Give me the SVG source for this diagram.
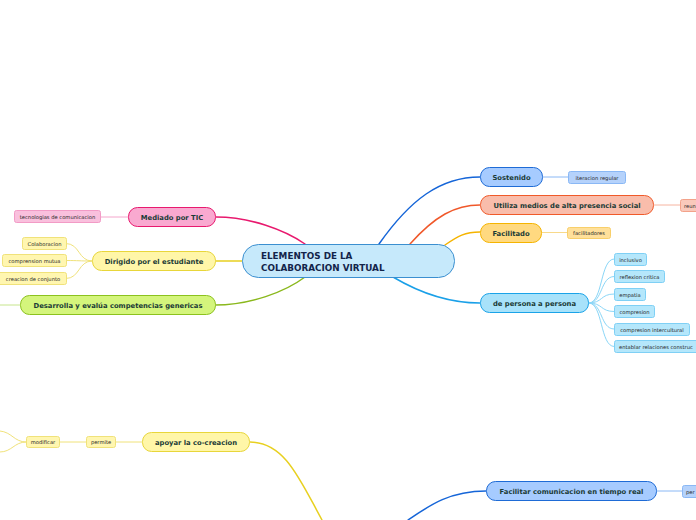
<svg xmlns="http://www.w3.org/2000/svg" width="696" height="520" viewBox="0 0 696 520">
<style>
.t{font-family:"DejaVu Sans",Verdana,sans-serif;font-weight:bold;font-size:6.8px;fill:#1b3b36;text-anchor:middle}
.s{font-family:"DejaVu Sans",Verdana,sans-serif;font-size:5.2px;fill:#262626;text-anchor:middle}
.c{font-family:"DejaVu Sans",Verdana,sans-serif;font-weight:bold;font-size:8.8px;fill:#13244a}
path,line{fill:none}
.pink{fill:#f9a9d0;stroke:#e8196e}
.pinkc{fill:#f9c0dd;stroke:#f29bc6}
.yel{fill:#fff6a8;stroke:#e8d63a}
.yelc{fill:#fff6b0;stroke:#f0e27a}
.grn{fill:#d4f57c;stroke:#8cc21e}
.blu{fill:#a6cbff;stroke:#1e6bd6}
.bluc{fill:#b5d2fb;stroke:#8ab8f5}
.org{fill:#f9bdab;stroke:#f05a2a}
.orgc{fill:#f9c9bb;stroke:#f3a28a}
.gold{fill:#ffd980;stroke:#f5b400}
.goldc{fill:#ffe09a;stroke:#f8cf6a}
.cyan{fill:#a8e2fa;stroke:#1aa3e8}
.cyanc{fill:#b5e7fb;stroke:#7fd0f5}
</style>
<rect width="696" height="520" fill="#fff"/>
<g id="connectors" stroke-linecap="round">
<path d="M305,244 C285,230 250,217 216,217" stroke="#e8196e" stroke-width="1.5"/>
<line x1="101" y1="217" x2="128" y2="217" stroke="#f4a6cc" stroke-width="1"/>
<line x1="215" y1="261" x2="242" y2="261" stroke="#e8d020" stroke-width="1.5"/>
<path d="M92,261 C78,261 80,243.5 66,243.5" stroke="#f0e27a" stroke-width="1"/>
<path d="M92,261 C78,261 80,260.5 66,260.5" stroke="#f0e27a" stroke-width="1"/>
<path d="M92,261 C78,261 80,278.5 66,278.5" stroke="#f0e27a" stroke-width="1"/>
<path d="M305,277 C285,292 250,305 215,305" stroke="#8ab81c" stroke-width="1.5"/>
<line x1="0" y1="305" x2="20" y2="305" stroke="#c6e58c" stroke-width="1"/>
<path d="M379,244 C410,200 440,177 480,177" stroke="#1565d8" stroke-width="1.5"/>
<line x1="543" y1="177" x2="568" y2="177" stroke="#8ab8f5" stroke-width="1"/>
<path d="M410,244 C435,216 455,205 480,205" stroke="#f0582a" stroke-width="1.5"/>
<line x1="654" y1="205" x2="680" y2="205" stroke="#f6b4a0" stroke-width="1"/>
<path d="M445,245 C458,236 465,232 480,232" stroke="#f5b400" stroke-width="1.5"/>
<line x1="542" y1="232.5" x2="567" y2="232.5" stroke="#f8d98a" stroke-width="1"/>
<path d="M393,277 C420,293 450,303 480,303" stroke="#1aa0e8" stroke-width="1.5"/>
<path d="M589,303 C603,303 600,259 614,259" stroke="#8ad6f7" stroke-width="1"/>
<path d="M589,303 C603,303 600,276.5 614,276.5" stroke="#8ad6f7" stroke-width="1"/>
<path d="M589,303 C603,303 600,294 614,294" stroke="#8ad6f7" stroke-width="1"/>
<path d="M589,303 C603,303 600,311.5 614,311.5" stroke="#8ad6f7" stroke-width="1"/>
<path d="M589,303 C603,303 600,329 614,329" stroke="#8ad6f7" stroke-width="1"/>
<path d="M589,303 C603,303 600,346.5 614,346.5" stroke="#8ad6f7" stroke-width="1"/>
<path d="M250,442 C285,442 300,480 322,520" stroke="#e8d020" stroke-width="1.5"/>
<line x1="116" y1="442" x2="142" y2="442" stroke="#f0e27a" stroke-width="1"/>
<line x1="60" y1="442" x2="86" y2="442" stroke="#f0e27a" stroke-width="1"/>
<path d="M26,442 C14,442 12,432 0,431" stroke="#f0e27a" stroke-width="1"/>
<path d="M26,442 C14,442 12,452 0,452" stroke="#f0e27a" stroke-width="1"/>
<path d="M408,520 C430,505 450,491 486,491" stroke="#1565d8" stroke-width="1.5"/>
<line x1="657" y1="491" x2="682" y2="491" stroke="#8ab8f5" stroke-width="1"/>
</g>
<g id="central">
<rect x="242.5" y="244.5" width="212" height="33" rx="16" fill="#c6e9fb" stroke="#3b8fd0" stroke-width="1"/>
<text class="c" x="261" y="259">ELEMENTOS DE LA</text>
<text class="c" x="261" y="270.5">COLABORACION VIRTUAL</text>
</g>
<g id="mediado">
<rect class="pink" x="128.5" y="207.5" width="87" height="19" rx="9"/>
<text class="t" x="172" y="219.5">Mediado por TIC</text>
</g>
<g id="tecnologias">
<rect class="pinkc" x="14.5" y="210.5" width="86" height="12" rx="2"/>
<text class="s" x="57.5" y="218.5">tecnologias de comunicacion</text>
</g>
<g id="dirigido">
<rect class="yel" x="92.5" y="251.5" width="123" height="19" rx="9"/>
<text class="t" x="154" y="263.5">Dirigido por el estudiante</text>
</g>
<g id="colaboracion">
<rect class="yelc" x="22.5" y="237.5" width="44" height="12" rx="2"/>
<text class="s" x="44.5" y="245.5">Colaboracion</text>
</g>
<g id="comprension-mutua">
<rect class="yelc" x="2.5" y="254.5" width="64" height="12" rx="2"/>
<text class="s" x="34.5" y="262.5">comprension mutua</text>
</g>
<g id="creacion">
<rect class="yelc" x="-2" y="272.5" width="68.5" height="12" rx="2"/>
<text class="s" x="33" y="280.5">creacion de conjunto</text>
</g>
<g id="desarrolla">
<rect class="grn" x="20.5" y="295.5" width="195" height="19" rx="9"/>
<text class="t" x="118" y="307.5">Desarrolla y evalúa competencias genericas</text>
</g>
<g id="sostenido">
<rect class="blu" x="480.5" y="167.5" width="62" height="19" rx="9"/>
<text class="t" x="511.5" y="179.5">Sostenido</text>
</g>
<g id="iteracion">
<rect class="bluc" x="568.5" y="171.5" width="57" height="12" rx="2"/>
<text class="s" x="597" y="179.5">iteracion regular</text>
</g>
<g id="utiliza">
<rect class="org" x="480.5" y="195.5" width="173" height="19" rx="9"/>
<text class="t" x="567" y="207.5">Utiliza medios de alta presencia social</text>
</g>
<g id="reun">
<rect class="orgc" x="680.5" y="199.5" width="30" height="12" rx="2"/>
<text class="s" x="684" y="207.5" style="text-anchor:start">reun</text>
</g>
<g id="facilitado">
<rect class="gold" x="480.5" y="223.5" width="61" height="19" rx="9"/>
<text class="t" x="511" y="235.5">Facilitado</text>
</g>
<g id="facilitadores">
<rect class="goldc" x="567.5" y="227.5" width="43" height="11" rx="2"/>
<text class="s" x="589" y="235">facilitadores</text>
</g>
<g id="persona">
<rect class="cyan" x="480.5" y="293.5" width="108" height="19" rx="9"/>
<text class="t" x="534.5" y="305.5">de persona a persona</text>
</g>
<g id="inclusivo">
<rect class="cyanc" x="614.5" y="253.5" width="32" height="12" rx="2"/>
<text class="s" x="630.5" y="261.5">inclusivo</text>
</g>
<g id="reflexion">
<rect class="cyanc" x="614.5" y="270.5" width="50" height="12" rx="2"/>
<text class="s" x="639.5" y="278.5">reflexion critica</text>
</g>
<g id="empatia">
<rect class="cyanc" x="614.5" y="288.5" width="31" height="12" rx="2"/>
<text class="s" x="630" y="296.5">empatia</text>
</g>
<g id="compresion">
<rect class="cyanc" x="614.5" y="305.5" width="40" height="12" rx="2"/>
<text class="s" x="634.5" y="313.5">compresion</text>
</g>
<g id="intercultural">
<rect class="cyanc" x="614.5" y="323.5" width="75" height="12" rx="2"/>
<text class="s" x="652" y="331.5">compresion intercultural</text>
</g>
<g id="entablar">
<rect class="cyanc" x="614.5" y="340.5" width="100" height="12" rx="2"/>
<text class="s" x="619" y="348.5" style="text-anchor:start">entablar relaciones construc</text>
</g>
<g id="apoyar">
<rect class="yel" x="142.5" y="432.5" width="107" height="19" rx="9"/>
<text class="t" x="196" y="444.5">apoyar la co-creacion</text>
</g>
<g id="permite">
<rect class="yelc" x="86.5" y="436.5" width="29" height="11" rx="2"/>
<text class="s" x="101" y="444">permite</text>
</g>
<g id="modificar">
<rect class="yelc" x="26.5" y="436.5" width="33" height="11" rx="2"/>
<text class="s" x="43" y="444">modificar</text>
</g>
<g id="facilitar">
<rect class="blu" x="486.5" y="481.5" width="170" height="19" rx="9"/>
<text class="t" x="571.5" y="493.5">Facilitar comunicacion en tiempo real</text>
</g>
<g id="per">
<rect class="bluc" x="682.5" y="485.5" width="30" height="12" rx="2"/>
<text class="s" x="686" y="493.5" style="text-anchor:start">per</text>
</g>
</svg>
